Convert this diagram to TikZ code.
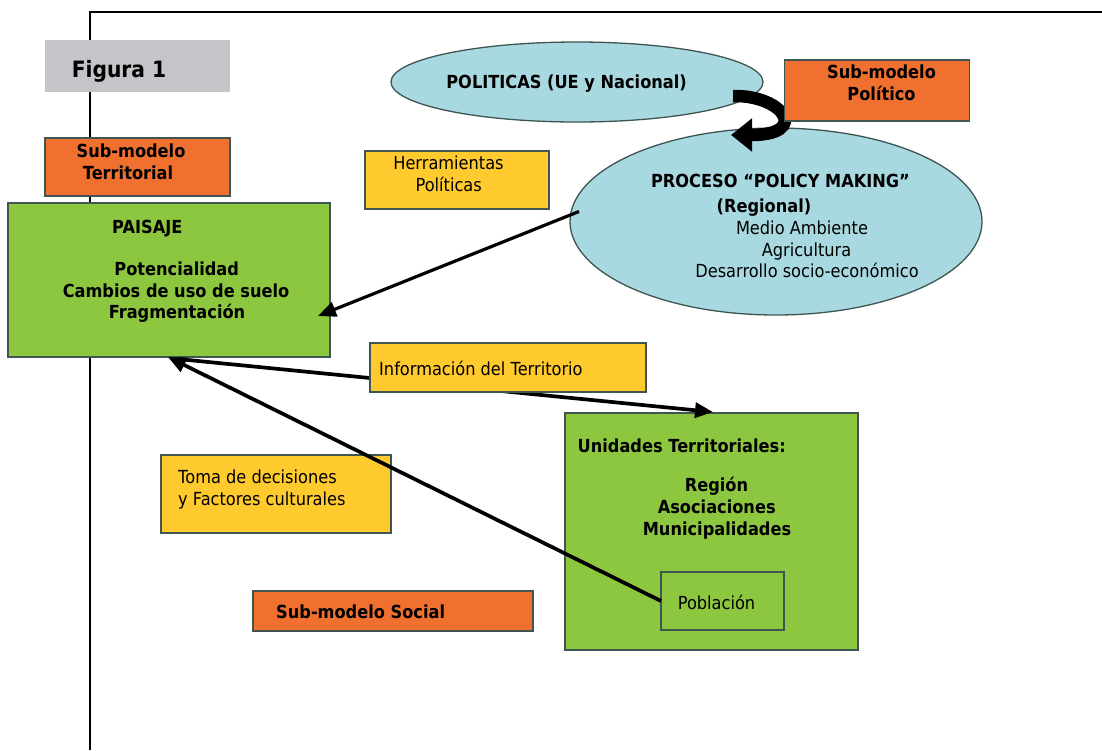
\documentclass[tikz,border=0pt]{standalone}
\usepackage{fontspec}
\setmainfont{DejaVu Sans}[FakeStretch=0.9]
\usetikzlibrary{arrows.meta,shapes.geometric,calc}

\definecolor{leaf}{HTML}{8DC63F}
\definecolor{ember}{HTML}{F07030}
\definecolor{amber}{HTML}{FFCA2E}
\definecolor{sky}{HTML}{A9D9E0}
\definecolor{mist}{HTML}{C4C5C9}
\definecolor{edge}{HTML}{3E5552}

\begin{document}
\begin{tikzpicture}[x=1pt,y=-1pt,
  panel/.style={draw=edge,line width=1.3pt,inner sep=0pt,outer sep=0pt},
  bubble/.style={ellipse,draw=edge,line width=1.3pt,fill=sky,inner sep=0pt,outer sep=0pt},
  txt/.style={inner sep=0pt,anchor=base,font=\fontsize{18}{21.5}\selectfont},
  btxt/.style={inner sep=0pt,anchor=base,font=\fontsize{18}{21.5}\selectfont\bfseries},
  link/.style={line width=3.7pt,-{Triangle[length=18pt,width=15pt]}},
]
\useasboundingbox (0,0) rectangle (1102,750);
\fill[white] (0,0) rectangle (1102,750);

% page frame
\draw[line width=2.8pt] (1102,12) -- (90,12) -- (90,750);

% left column
\node[panel,draw=none,fill=mist,minimum width=185pt,minimum height=52pt] (fig) at (137.5,66) {};
\node[panel,fill=ember,minimum width=185pt,minimum height=58pt] (terr) at (137.5,167) {};
\node[panel,fill=leaf,minimum width=322pt,minimum height=154pt] (paisaje) at (169,280) {};
\node[panel,fill=amber,minimum width=184pt,minimum height=58pt] (herr) at (457,180) {};

% policy ellipses
\node[bubble,minimum width=372pt,minimum height=80pt] (politicas) at (577,82) {};
\node[bubble,minimum width=412pt,minimum height=187pt] (proceso) at (776,221.5) {};

% curved block arrow between the two policy levels
\draw[line width=12.5pt,-{Triangle[length=21pt,width=32pt]}]
  ($(politicas.east)+(-30,14)$) .. controls (784,95) and (810,135) .. ($(proceso.north)+(-45,7)$);

\node[panel,fill=ember,minimum width=185pt,minimum height=61pt] (polit) at (877,90.5) {};

% lower boxes
\node[panel,fill=leaf,minimum width=293pt,minimum height=237pt] (unid) at (711.5,531.5) {};
\node[panel,fill=leaf,minimum width=123pt,minimum height=58pt] (pobl) at (722.5,601) {};
\node[panel,fill=amber,minimum width=230pt,minimum height=78pt] (toma) at (276,494) {};
\node[panel,fill=ember,minimum width=280pt,minimum height=40pt] (social) at (393,611) {};

% connectors
\draw[link] ($(paisaje.south)+(9,2)$) -- ($(unid.north)+(1.5,-1)$);
\node[panel,fill=amber,minimum width=276pt,minimum height=49pt] (info) at (508,367.5) {};
\draw[link,line width=3.2pt] ($(proceso.west)+(9,-10)$) -- ($(paisaje.east)+(-12,36)$);
\draw[link] (pobl.west) -- ($(paisaje.south)+(-1,0)$);

% labels
\node[btxt,font=\fontsize{22.5}{26}\selectfont\bfseries] (tfig) at (119,77.5) {Figura 1};
\node[btxt] (tterr1) at (131,157.5) {Sub-modelo};
\node[btxt] (tterr2) at (128,179) {Territorial};

\node[btxt,anchor=base west] (tpai) at (112,233) {PAISAJE};
\node[btxt] (tpai1) at (176.7,275) {Potencialidad};
\node[btxt] (tpai2) at (176,297) {Cambios de uso de suelo};
\node[btxt] (tpai3) at (177,318.5) {Fragmentación};

\node[txt] (therr1) at (448.5,169.3) {Herramientas};
\node[txt] (therr2) at (448.7,191.5) {Políticas};

\node[btxt] (tpol) at (566.6,88.3) {POLITICAS (UE y Nacional)};
\node[btxt] (tpolit1) at (881.5,78) {Sub-modelo};
\node[btxt] (tpolit2) at (881.5,100) {Político};

\node[btxt] (tproc1) at (780.5,187) {PROCESO “POLICY MAKING”};
\node[btxt] (tproc2) at (764,212) {(Regional)};
\node[txt] (tproc3) at (802,234) {Medio Ambiente};
\node[txt] (tproc4) at (806.5,256) {Agricultura};
\node[txt] (tproc5) at (807,277.5) {Desarrollo socio-económico};

\node[txt,anchor=base west] (tinfo) at (379,375) {Información del Territorio};

\node[btxt,anchor=base west] (tunid) at (577.5,452.5) {Unidades Territoriales:};
\node[btxt] (tunid1) at (716.5,491.7) {Región};
\node[btxt] (tunid2) at (716.7,513.3) {Asociaciones};
\node[btxt] (tunid3) at (717,535) {Municipalidades};
\node[txt] (tpobl) at (716.5,609.3) {Población};

\node[txt,anchor=base west] (ttoma1) at (178,483.5) {Toma de decisiones};
\node[txt,anchor=base west] (ttoma2) at (178,505) {y Factores culturales};
\node[btxt,anchor=base west] (tsoc) at (276,618) {Sub-modelo Social};
\end{tikzpicture}
\end{document}
